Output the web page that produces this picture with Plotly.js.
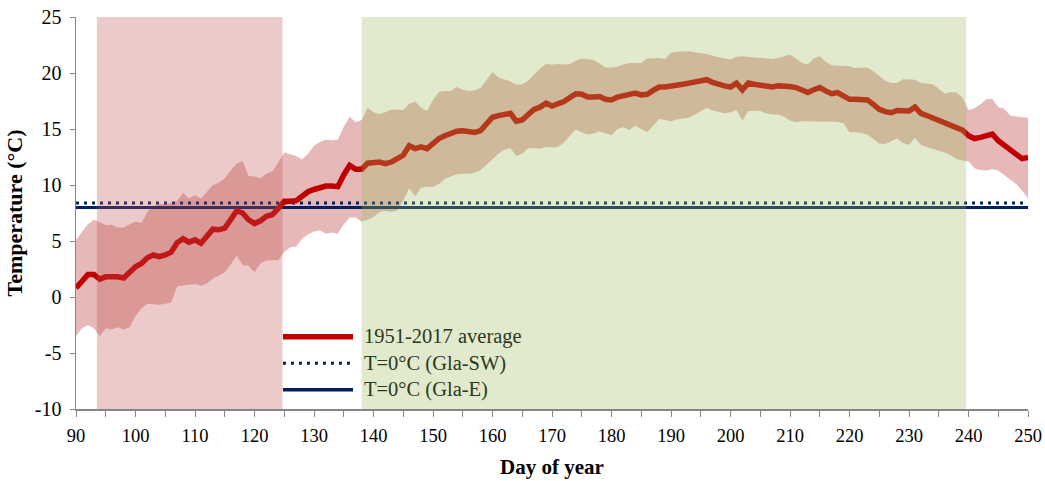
<!DOCTYPE html>
<html>
<head>
<meta charset="utf-8">
<script src="https://cdn.plot.ly/plotly-3.0.1.min.js"></script>
<style>
  html, body { margin: 0; padding: 0; background: #ffffff; }
  #chart { width: 1045px; height: 481px; }
</style>
</head>
<body>
<div id="chart"></div>
<script>
// ---- Data ----
const firstDay = 90;

// 1951-2017 daily mean temperature (°C), days 90..250
const meanTemp = [
  0.8,1.4,2.0,2.0,1.6,1.8,1.85,1.8,1.7,2.2,
  2.7,3.0,3.5,3.75,3.6,3.75,4.0,4.85,5.2,4.9,
  5.1,4.8,5.4,6.05,6.0,6.15,6.9,7.7,7.5,6.9,
  6.55,6.8,7.2,7.35,7.9,8.55,8.55,8.6,9.0,9.4,
  9.6,9.8,9.9,9.9,9.85,10.9,11.75,11.4,11.4,11.95,
  12.05,12.05,11.9,12.05,12.35,12.65,13.5,13.25,13.4,13.25,
  13.7,14.15,14.4,14.6,14.8,14.85,14.75,14.7,14.85,15.4,
  16.05,16.2,16.3,16.4,15.7,15.8,16.3,16.75,16.95,17.3,
  17.05,17.2,17.45,17.8,18.15,18.1,17.85,17.85,17.9,17.65,
  17.6,17.85,18.0,18.1,18.2,18.05,18.1,18.45,18.75,18.75,
  18.8,18.9,19.0,19.1,19.2,19.2,19.4,19.15,18.95,18.85,
  18.75,19.1,18.5,19.1,19.0,18.95,18.8,18.75,18.85,18.85,
  18.8,18.7,18.5,18.25,18.5,18.7,18.4,18.15,18.25,18.0,
  17.65,17.65,17.65,17.6,17.2,16.75,16.55,16.45,16.65,16.6,
  16.6,16.95,16.4,16.2,16.0,15.75,15.5,15.35,15.15,14.9,
  14.4,14.15,14.25,14.45,14.55,13.95,13.55,13.1,12.7,12.35,
  12.45
];

// Upper edge of the shaded range
const upperTemp = [
  5.1,5.8,6.5,6.9,6.7,6.4,6.45,6.2,6.2,6.5,
  6.75,6.6,7.6,8.1,8.3,8.3,8.4,8.6,9.3,8.8,
  9.1,8.8,9.4,10.0,10.2,10.6,11.3,11.9,12.15,10.8,
  10.75,10.6,11.0,11.2,12.0,12.9,12.75,12.6,12.3,12.8,
  13.5,13.85,14.05,14.0,14.05,15.2,16.1,15.6,15.8,16.9,
  16.5,16.35,16.5,16.75,16.75,16.7,17.25,17.45,16.9,16.6,
  17.6,18.3,18.4,18.4,18.75,18.5,18.4,18.45,18.65,19.4,
  20.1,19.6,19.4,19.25,18.95,19.0,19.3,19.9,20.4,20.8,
  20.75,20.8,20.75,20.8,21.1,21.3,21.2,21.15,20.85,20.5,
  20.5,20.55,20.75,20.9,20.9,20.9,21.3,21.35,21.35,21.25,
  21.8,21.9,21.95,21.95,21.85,21.8,21.7,21.55,21.4,21.3,
  21.2,21.45,21.5,21.45,21.35,21.3,21.25,21.25,21.35,21.5,
  21.65,21.3,20.9,20.75,21.3,21.5,21.0,20.7,20.65,20.6,
  20.6,20.45,20.45,20.5,20.15,19.75,19.3,19.1,19.1,19.45,
  19.4,19.4,19.1,19.05,19.0,18.6,18.15,18.3,18.25,17.8,
  16.7,16.85,17.2,17.65,17.7,16.95,16.8,16.2,16.1,16.05,
  16.0
];

// Lower edge of the shaded range
const lowerTemp = [
  -3.5,-2.8,-2.5,-2.8,-3.5,-2.8,-2.9,-2.7,-2.9,-2.7,
  -1.7,-1.0,-0.6,-0.65,-0.7,-0.6,-0.5,0.95,1.05,1.1,
  1.15,1.0,1.2,1.65,1.9,2.2,2.9,3.7,2.85,2.8,
  2.2,3.0,3.25,3.3,3.3,4.0,4.45,4.5,5.2,5.6,
  5.85,5.95,5.65,5.75,5.65,6.5,7.1,7.1,6.75,6.9,
  7.15,7.6,7.7,7.6,7.75,8.6,9.7,9.0,9.75,9.85,
  9.85,10.1,10.55,10.75,10.95,11.0,11.0,11.1,11.35,11.8,
  12.3,12.8,13.15,13.3,12.6,12.8,13.3,13.3,13.25,13.4,
  13.35,13.4,13.8,14.4,14.95,14.7,14.5,14.6,14.8,14.6,
  14.45,15.0,15.15,14.9,15.3,15.0,14.7,15.3,15.9,15.8,
  15.7,15.85,15.95,16.0,16.3,16.6,16.9,16.65,16.55,16.4,
  16.5,16.7,15.75,16.6,16.6,16.6,16.4,16.3,16.3,16.1,
  15.75,15.6,15.7,15.7,15.7,15.7,15.7,15.7,15.65,15.5,
  14.7,14.7,14.65,14.5,14.1,13.7,13.65,13.9,14.15,13.75,
  13.6,14.2,13.6,13.4,13.2,13.05,12.9,12.65,12.3,12.2,
  12.1,11.5,11.35,11.3,11.4,11.3,10.9,10.5,10.1,9.5,
  8.8
];

// Threshold lines (station temperature equivalent to 0°C on glacier)
const thresholdDays = [90, 250];
const thresholdSW = [8.4, 8.4];
const thresholdE = [8.0, 8.0];

// Shaded periods (day of year)
const periodPink = [93.5, 124.7];
const periodGreen = [138, 239.6];

const seriesNames = ["1951-2017 average", "T=0°C (Gla-SW)", "T=0°C (Gla-E)"];
const xTickVals = [90,100,110,120,130,140,150,160,170,180,190,200,210,220,230,240,250];
const yTickVals = [-10,-5,0,5,10,15,20,25];

// ---- Build ----
const days = meanTemp.map((_, i) => firstDay + i);

const RED = "#C00000";
const NAVY = "#002060";
const AXIS = "#868686";
const SERIF = "'Liberation Serif', 'Times New Roman', serif";

const traces = [
  { x: days, y: lowerTemp, type: "scatter", mode: "lines",
    line: { width: 0, color: "rgba(0,0,0,0)" }, hoverinfo: "skip", showlegend: false },
  { x: days, y: upperTemp, type: "scatter", mode: "lines", fill: "tonexty",
    fillcolor: "rgba(192,80,77,0.40)",
    line: { width: 0, color: "rgba(0,0,0,0)" }, hoverinfo: "skip", showlegend: false },
  { x: thresholdDays, y: thresholdE, type: "scatter", mode: "lines", name: seriesNames[2],
    line: { color: NAVY, width: 3 }, showlegend: false },
  { x: thresholdDays, y: thresholdSW, type: "scatter", mode: "lines", name: seriesNames[1],
    line: { color: NAVY, width: 3, dash: "3px,5px" }, showlegend: false },
  { x: days, y: meanTemp, type: "scatter", mode: "lines", name: seriesNames[0],
    line: { color: RED, width: 5.5 }, showlegend: false }
];

// custom legend (paper coordinates)
const legY = [0.184, 0.117, 0.049];
const legX0 = 0.2174, legX1 = 0.291, legTextX = 0.300;
const legendStyles = [
  { color: RED, width: 5.5, dash: "solid" },
  { color: NAVY, width: 3, dash: "3px,5px" },
  { color: NAVY, width: 3.5, dash: "solid" }
];

const shapes = [
  { type: "rect", xref: "x", yref: "paper", x0: periodPink[0], x1: periodPink[1], y0: 0, y1: 1,
    fillcolor: "rgba(192,80,77,0.30)", line: { width: 0 }, layer: "above" },
  { type: "rect", xref: "x", yref: "paper", x0: periodGreen[0], x1: periodGreen[1], y0: 0, y1: 1,
    fillcolor: "rgba(155,187,89,0.30)", line: { width: 0 }, layer: "above" }
];
legendStyles.forEach((s, i) => {
  shapes.push({ type: "line", xref: "paper", yref: "paper", x0: legX0, x1: legX1, y0: legY[i], y1: legY[i],
    line: { color: s.color, width: s.width, dash: s.dash }, layer: "above" });
});

const annotations = seriesNames.map((n, i) => ({
  xref: "paper", yref: "paper", x: legTextX, y: legY[i], xanchor: "left", yanchor: "middle",
  text: n, showarrow: false, font: { family: SERIF, size: 20.5, color: "#2d371e" }
}));

const layout = {
  width: 1045, height: 481,
  margin: { l: 76, r: 17, t: 17, b: 72, pad: 0 },
  paper_bgcolor: "#ffffff", plot_bgcolor: "#ffffff",
  showlegend: false,
  font: { family: SERIF, color: "#000000" },
  xaxis: {
    range: [90, 250], tickvals: xTickVals, ticktext: xTickVals.map(String),
    showgrid: false, zeroline: false, showline: true, linecolor: AXIS, linewidth: 1.5,
    ticks: "outside", ticklen: 6, tickcolor: AXIS, tickwidth: 1,
    minor: { dtick: 5, tick0: 90, ticks: "outside", ticklen: 6, tickcolor: AXIS, tickwidth: 1, showgrid: false },
    tickfont: { family: SERIF, size: 18.5, color: "#000000" },
    ticklabelstandoff: 3,
    title: { text: "<b>Day of year</b>", font: { family: SERIF, size: 21, color: "#000000" }, standoff: 14 },
    automargin: false
  },
  yaxis: {
    range: [-10, 25], tickvals: yTickVals, ticktext: yTickVals.map(String),
    showgrid: false, zeroline: false, showline: true, linecolor: AXIS, linewidth: 1.5,
    ticks: "outside", ticklen: 5, tickcolor: AXIS, tickwidth: 1,
    tickfont: { family: SERIF, size: 20, color: "#000000" },
    ticklabelstandoff: 4,
    title: { text: "<b>Temperature (°C)</b>", font: { family: SERIF, size: 22, color: "#000000" }, standoff: 6 },
    automargin: false
  },
  shapes: shapes,
  annotations: annotations
};

Plotly.newPlot("chart", traces, layout, { displayModeBar: false, staticPlot: true });
</script>
</body>
</html>
